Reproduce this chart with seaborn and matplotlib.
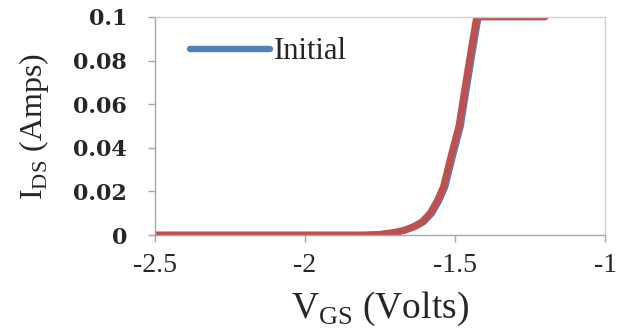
import matplotlib
matplotlib.use("Agg")
import matplotlib.pyplot as plt
import seaborn as sns
import pandas as pd

# values
vgs_initial = [-2.5, -1.80, -1.744, -1.700, -1.664, -1.633, -1.604, -1.577, -1.554, -1.533,
               -1.505, -1.481, -1.455, -1.439, -1.422, -1.2]
ids_initial = [0.0, 0.0, 0.0003, 0.0011, 0.0022, 0.0038, 0.006, 0.010, 0.0155, 0.022,
               0.0375, 0.050, 0.0726, 0.086, 0.1, 0.1]
vgs_final = [-2.5, -1.80, -1.750, -1.706, -1.670, -1.639, -1.610, -1.583, -1.560, -1.539,
             -1.511, -1.487, -1.461, -1.445, -1.428, -1.2]
ids_final = [0.0, 0.0, 0.0003, 0.0011, 0.0022, 0.0038, 0.006, 0.010, 0.0155, 0.022,
             0.0375, 0.050, 0.0726, 0.086, 0.1, 0.1]
series = ["Initial", "Final"]
colors = {"Initial": "#4F81BD", "Final": "#C0504D"}

df = pd.concat([
    pd.DataFrame({"vgs": vgs_initial, "ids": ids_initial, "s": series[0]}),
    pd.DataFrame({"vgs": vgs_final, "ids": ids_final, "s": series[1]}),
])

sns.set_style("white")
plt.rcParams["font.family"] = ["Liberation Serif", "DejaVu Serif"]
plt.rcParams["mathtext.fontset"] = "custom"
plt.rcParams["mathtext.rm"] = "Liberation Serif"

fig = plt.figure(figsize=(6.2, 3.28), dpi=100)
ax = fig.add_axes([0.25, 0.2835, 0.726, 0.665])

sns.lineplot(data=df, x="vgs", y="ids", hue="s", palette=colors, ax=ax,
             linewidth=5.0, sort=False, legend=False)
ax.lines[0].set_linewidth(4.6)
for ln in ax.lines:
    ln.set_solid_joinstyle("round")

ax.set_xlim(-2.5, -1)
ax.set_ylim(0, 0.1)
ax.set_xticks([-2.5, -2, -1.5, -1])
ax.set_xticklabels(["-2.5", "-2", "-1.5", "-1"], fontsize=20)
ax.set_yticks([0, 0.02, 0.04, 0.06, 0.08, 0.1])
ax.set_yticklabels(["0", "0.02", "0.04", "0.06", "0.08", "0.1"], fontsize=16,
                   fontweight="bold", family=["DejaVu Serif"])
ax.tick_params(axis="both", direction="out", length=5, width=1, color="#A6A6A6",
               bottom=True, left=True)
ax.tick_params(axis="y", pad=15)
ax.tick_params(axis="x", pad=8)

for sp in ax.spines.values():
    sp.set_color("#D0D0D0")
    sp.set_linewidth(1)
ax.spines["bottom"].set_color("#A6A6A6")
ax.spines["left"].set_color("#A6A6A6")

ax.set_xlabel(r"V$_{\mathrm{GS}}$ (Volts)", fontsize=27)
ax.set_ylabel(r"I$_{\mathrm{DS}}$ (Amps)", fontsize=23)
ax.xaxis.set_label_coords(0.5, -0.25)
ax.yaxis.set_label_coords(-0.232, 0.495)

ax.legend([ax.lines[0]], ["Initial"], loc="center left", bbox_to_anchor=(0.078, 0.84),
          frameon=False, fontsize=22, handlelength=2.6, handletextpad=0.15,
          borderpad=0, borderaxespad=0)

fig.savefig("out.png", dpi=100)
